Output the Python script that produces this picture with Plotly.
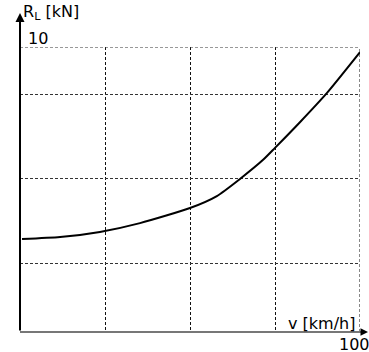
import plotly.graph_objects as go

# data
v = [0.6, 11.8, 23.5, 35.3, 50, 57.9, 64.7, 71.5, 75, 82.4, 90.3, 100]
R = [3.26, 3.33, 3.51, 3.82, 4.35, 4.77, 5.37, 6.04, 6.46, 7.37, 8.39, 9.82]
grid_v = [25, 50, 75, 100]
grid_R = [2.39, 5.37, 8.35, 10]
x_label = "v [km/h]"
y_label = "R<sub>L</sub> [kN]"
x_max_label = "100"
y_max_label = "10"

fig = go.Figure()
fig.add_trace(go.Scatter(x=v, y=R, mode="lines", line=dict(color="black", width=2, shape="spline", smoothing=0.6),
                         showlegend=False, hoverinfo="skip"))

font = dict(family="DejaVu Sans, Arial, sans-serif", size=16, color="black")

fig.update_layout(
    width=369, height=352,
    margin=dict(l=20, r=9, t=47, b=20),
    paper_bgcolor="white", plot_bgcolor="white",
    xaxis=dict(range=[0, 100], tickvals=grid_v, showticklabels=False, ticks="",
               showgrid=True, gridcolor="#111", griddash="3px,2px", gridwidth=1,
               zeroline=False, showline=False, fixedrange=True),
    yaxis=dict(range=[0, 10], tickvals=grid_R, showticklabels=False, ticks="",
               showgrid=True, gridcolor="#333", griddash="3px,2px", gridwidth=1,
               zeroline=False, showline=False, fixedrange=True),
    font=font,
)

# edge grid lines (top and right), which plotly skips at the range boundary
fig.add_shape(type="line", xref="x", yref="y", x0=0, x1=grid_v[-1], y0=grid_R[-1], y1=grid_R[-1],
              line=dict(color="#333", width=1, dash="3px,2px"))
fig.add_shape(type="line", xref="x", yref="y", x0=grid_v[-1], x1=grid_v[-1], y0=0, y1=grid_R[-1],
              line=dict(color="#111", width=1, dash="3px,2px"))

# axes lines with arrows
fig.add_shape(type="line", xref="paper", yref="paper", x0=0, x1=346/340, y0=0, y1=0,
              line=dict(color="#777", width=2))
fig.add_annotation(xref="paper", yref="paper", x=349/340, y=0, ax=-6, ay=0, text="",
                   showarrow=True, arrowhead=2, arrowsize=1, arrowwidth=1.5, arrowcolor="black")
fig.add_annotation(xref="paper", yref="paper", x=0, y=319/285, ax=0, ay=319, text="",
                   showarrow=True, arrowhead=2, arrowsize=0.9, arrowwidth=2, arrowcolor="black")

# labels
fig.add_annotation(xref="paper", yref="paper", x=1/340, y=(332 - 12) / 285, text=y_label, showarrow=False,
                   xanchor="left", yanchor="middle", font=font)
fig.add_annotation(xref="paper", yref="paper", x=6/340, y=(332 - 39) / 285, text=y_max_label, showarrow=False,
                   xanchor="left", yanchor="middle", font=font)
fig.add_annotation(xref="paper", yref="paper", x=337/340, y=(332 - 323) / 285, text=x_label, showarrow=False,
                   xanchor="right", yanchor="middle", font=font)
fig.add_annotation(xref="paper", yref="paper", x=317/340, y=(332 - 344) / 285, text=x_max_label, showarrow=False,
                   xanchor="left", yanchor="middle", font=font)

fig.write_html("out.html")
